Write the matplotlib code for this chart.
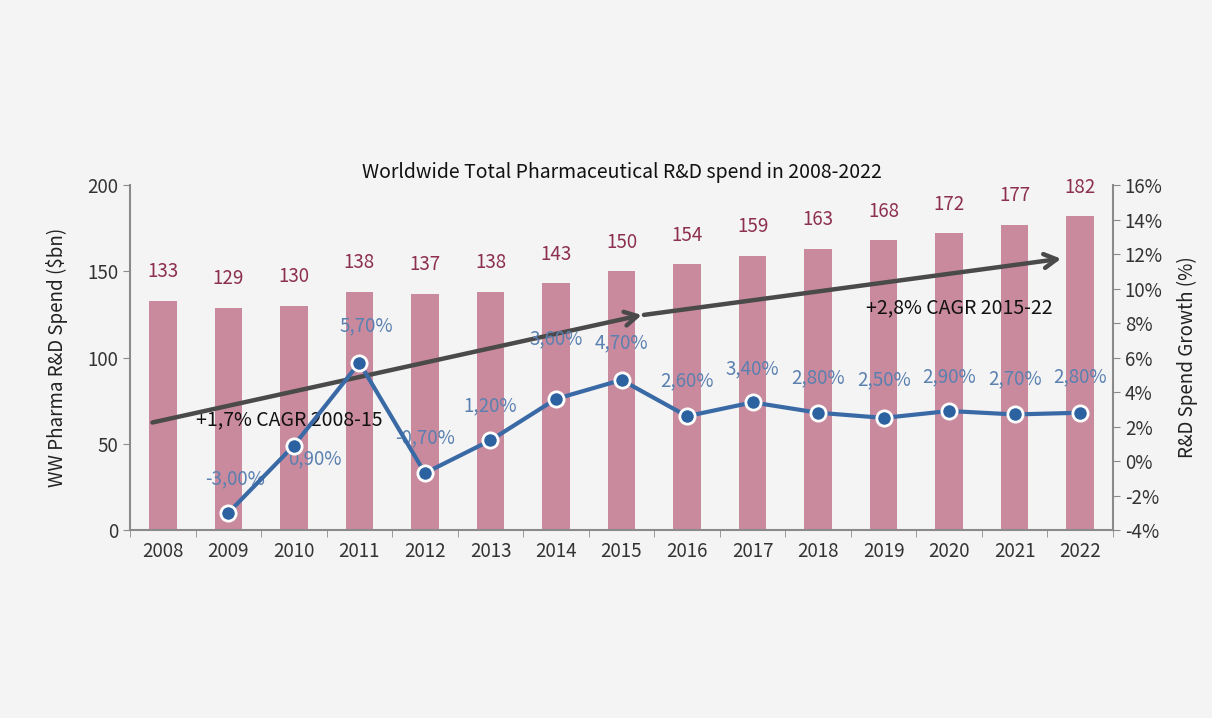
import matplotlib.pyplot as plt

plt.rcParams['font.family'] = ['Noto Sans CJK KR', 'DejaVu Sans']

years = ['2008', '2009', '2010', '2011', '2012', '2013', '2014', '2015',
         '2016', '2017', '2018', '2019', '2020', '2021', '2022']
spend = [133, 129, 130, 138, 137, 138, 143, 150, 154, 159, 163, 168, 172, 177, 182]
growth = [None, -3.0, 0.9, 5.7, -0.7, 1.2, 3.6, 4.7, 2.6, 3.4, 2.8, 2.5, 2.9, 2.7, 2.8]
growth_labels = ['', '-3,00%', '0,90%', '5,70%', '-0,70%', '1,20%', '3,60%', '4,70%',
                 '2,60%', '3,40%', '2,80%', '2,50%', '2,90%', '2,70%', '2,80%']
left_ticks = [0, 50, 100, 150, 200]
right_ticks = [-4, -2, 0, 2, 4, 6, 8, 10, 12, 14, 16]

# label offsets (pixels) for the growth labels
label_offsets = [(0, 0), (7, 34), (21, -13), (7, 37), (0, 35), (0, 35), (0, 60), (0, 37),
                 (0, 35), (0, 34), (0, 35), (0, 38), (0, 34), (0, 36), (0, 36)]

bg = '#f4f4f4'
bar_color = '#c98a9d'
line_color = '#3a6aa6'
grow_text = '#5a80b0'
val_text = '#8c2f50'
axis_color = '#8a8a8a'

fig = plt.figure(figsize=(12.12, 7.18), dpi=100, facecolor=bg)
ax = fig.add_axes([0.1073, 0.2618, 0.811, 0.4805])
ax.set_facecolor(bg)

x = list(range(len(years)))
ax.bar(x, spend, width=0.42, color=bar_color, zorder=2)
for xi, v in zip(x, spend):
    ax.annotate(str(v), (xi, v), xytext=(0, 29), textcoords='offset pixels',
                ha='center', va='center', fontsize=13.5, color=val_text)

ax.set_xlim(-0.5, 14.5)
ax.set_ylim(0, 200)
ax.set_yticks(left_ticks)
ax.set_xticks(x)
ax.set_xticklabels(years, fontsize=13.5, color='#333333')
ax.set_xticks([i + 0.5 for i in range(-1, 15)], minor=True)
ax.tick_params(axis='x', which='major', length=0, pad=8)
ax.tick_params(axis='x', which='minor', length=5, color=axis_color)
ax.tick_params(axis='y', length=5, color=axis_color, labelsize=13.5, labelcolor='#333333')
for s in ['top', 'right']:
    ax.spines[s].set_visible(False)
for s in ['left', 'bottom']:
    ax.spines[s].set_color(axis_color)
    ax.spines[s].set_linewidth(1.5)
ax.set_ylabel('WW Pharma R&D Spend ($bn)', fontsize=13.5, color='#222222', labelpad=14)

# CAGR arrows
ax.annotate('', xy=(7.35, 125), xytext=(-0.2, 62),
            arrowprops=dict(arrowstyle='->,head_length=0.9,head_width=0.5',
                            color='#4a4a4a', lw=3.2), zorder=3)
ax.annotate('', xy=(13.75, 157.5), xytext=(7.3, 124.5),
            arrowprops=dict(arrowstyle='->,head_length=0.9,head_width=0.5',
                            color='#4a4a4a', lw=3.2), zorder=3)
ax.text(0.5, 64, '+1,7% CAGR 2008-15', fontsize=14, color='#111111', ha='left', va='center', zorder=3)
ax.text(12.15, 129, '+2,8% CAGR 2015-22', fontsize=14, color='#111111', ha='center', va='center', zorder=3)

ax.set_title('Worldwide Total Pharmaceutical R&D spend in 2008-2022', fontsize=14,
             color='#111111', pad=5)

ax2 = ax.twinx()
gx = [xi for xi, g in zip(x, growth) if g is not None]
gy = [g for g in growth if g is not None]
ax2.plot(gx, gy, color=line_color, lw=3, marker='o', markersize=11,
         markerfacecolor='#2d62a0', markeredgecolor='white', markeredgewidth=2, zorder=5)
for xi, g, lab, off in zip(x, growth, growth_labels, label_offsets):
    if g is None:
        continue
    ax2.annotate(lab, (xi, g), xytext=off, textcoords='offset pixels',
                 ha='center', va='center', fontsize=13.5, color=grow_text)
ax2.set_ylim(-4, 16)
ax2.set_yticks(right_ticks)
ax2.set_yticklabels([f'{t}%' for t in right_ticks])
ax2.tick_params(axis='y', length=5, color=axis_color, labelsize=13.5, labelcolor='#333333')
for s in ['top', 'left', 'bottom']:
    ax2.spines[s].set_visible(False)
ax2.spines['right'].set_color(axis_color)
ax2.spines['right'].set_linewidth(1.5)
ax2.set_ylabel('R&D Spend Growth (%)', fontsize=13.5, color='#222222', labelpad=10)

fig.savefig('out.png', dpi=100, facecolor=bg)
